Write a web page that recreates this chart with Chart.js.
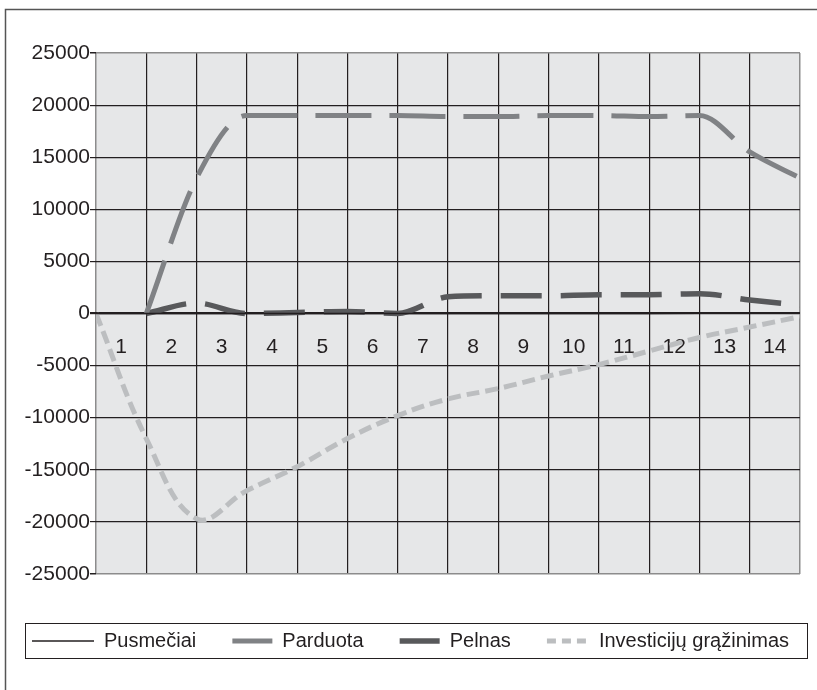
<!DOCTYPE html>
<html lang="lt">
<head>
<meta charset="UTF-8" />
<title>Pusmečiai</title>
<script src="https://cdn.jsdelivr.net/npm/chart.js"></script>
<style>
  body { margin: 0; background: #fff; }
  #wrap { position: relative; width: 817px; height: 690px; }
</style>
</head>
<body>
<div id="wrap"><canvas id="grafikas" width="817" height="690"></canvas></div>
<script>
// taškai ties tinklelio linijomis 0..14, žymės tarp jų
const periodai = [0, 1, 2, 3, 4, 5, 6, 7, 8, 9, 10, 11, 12, 13, 14];
const zymes = ["1", "2", "3", "4", "5", "6", "7", "8", "9", "10", "11", "12", "13", "14"];

const pusmeciai = [0, 1, 2, 3, 4, 5, 6, 7, 8, 9, 10, 11, 12, 13, 14];
const parduota = [null, 0, 13000, 19000, 19000, 19000, 19000, 18900, 18900, 19000, 19000, 18900, 19000, 15500, 13000];
const pelnas = [null, 0, 1000, 0, 100, 200, 0, 1600, 1700, 1700, 1800, 1800, 1900, 1300, 800];
const investicijos = [0, -12000, -19700, -17000, -14700, -12000, -9800, -8200, -7200, -6000, -4900, -3600, -2300, -1300, -300];

const yMin = -25000, yMax = 25000, yZingsnis = 5000;

const tekstas = "#231f20";
const srift = '"Liberation Sans", Arial, sans-serif';

function taskai(reiksmes) {
  return periodai.map((x, i) => ({ x: x, y: reiksmes[i] }));
}

const remelis = {
  id: "remelis",
  beforeDraw(chart) {
    const { ctx, chartArea: a } = chart;
    ctx.save();
    ctx.fillStyle = "#fff";
    ctx.fillRect(0, 0, chart.width, chart.height);
    ctx.fillStyle = "#e6e7e8";
    ctx.fillRect(a.left, a.top, a.right - a.left, a.bottom - a.top);
    ctx.strokeStyle = "#555";
    ctx.lineWidth = 1.5;
    ctx.beginPath();
    ctx.moveTo(5.5, chart.height);
    ctx.lineTo(5.5, 9.5);
    ctx.lineTo(chart.width, 9.5);
    ctx.stroke();
    ctx.restore();
  },
  afterDraw(chart) {
    // legenda su rėmeliu apačioje
    const ctx = chart.ctx;
    const boxL = 25, boxR = 807, boxT = 623, boxB = 658, midY = 641;
    ctx.save();
    ctx.strokeStyle = tekstas;
    ctx.lineWidth = 1;
    ctx.strokeRect(boxL + 0.5, boxT + 0.5, boxR - boxL, boxB - boxT);
    ctx.font = "20px " + srift;
    ctx.textBaseline = "middle";
    ctx.fillStyle = tekstas;
    const ds = chart.data.datasets;
    const symW = ds.map(d => d.legendLength);
    const textW = ds.map(d => ctx.measureText(d.label).width);
    const textGap = 10;
    const start = 32, end = 789;
    let used = 0;
    ds.forEach((d, i) => { used += symW[i] + textGap + textW[i]; });
    const itemGap = (end - start - used) / (ds.length - 1);
    let x = start;
    ds.forEach((d, i) => {
      ctx.beginPath();
      ctx.setLineDash(d.legendDash || []);
      ctx.lineWidth = d.borderWidth;
      ctx.strokeStyle = d.borderColor;
      ctx.lineCap = "butt";
      ctx.moveTo(x, midY);
      ctx.lineTo(x + symW[i], midY);
      ctx.stroke();
      ctx.setLineDash([]);
      x += symW[i] + textGap;
      ctx.fillText(d.label, x, midY);
      x += textW[i] + itemGap;
    });
    ctx.restore();
  }
};

function kraštas(ctx, n) {
  return ctx.index === 0 || ctx.index === n;
}

new Chart(document.getElementById("grafikas"), {
  type: "line",
  data: {
    datasets: [
      {
        label: "Pusmečiai",
        data: taskai(pusmeciai),
        borderColor: tekstas,
        borderWidth: 1.5,
        tension: 0,
        pointRadius: 0,
        legendLength: 62
      },
      {
        label: "Parduota",
        data: taskai(parduota),
        borderColor: "#808285",
        borderWidth: 5,
        borderDash: [56, 18],
        borderCapStyle: "butt",
        cubicInterpolationMode: "monotone",
        pointRadius: 0,
        legendLength: 40
      },
      {
        label: "Pelnas",
        data: taskai(pelnas),
        borderColor: "#58595b",
        borderWidth: 5.5,
        borderDash: [41, 19],
        borderCapStyle: "butt",
        cubicInterpolationMode: "monotone",
        pointRadius: 0,
        legendLength: 40
      },
      {
        label: "Investicijų grąžinimas",
        data: taskai(investicijos),
        borderColor: "#bcbec0",
        borderWidth: 5,
        borderDash: [13, 6],
        borderCapStyle: "butt",
        tension: 0.4,
        pointRadius: 0,
        legendLength: 42,
        legendDash: [9, 6]
      }
    ]
  },
  options: {
    responsive: false,
    animation: false,
    devicePixelRatio: 1,
    layout: { padding: { left: 0, right: 17, top: 53, bottom: 116 } },
    plugins: { legend: { display: false }, tooltip: { enabled: false } },
    scales: {
      x: {
        type: "linear",
        min: 0,
        max: 14,
        ticks: { display: false, stepSize: 1 },
        border: { display: false },
        grid: {
          drawTicks: false,
          color: c => kraštas(c, 14) ? "#8c8c8c" : tekstas,
          lineWidth: c => kraštas(c, 14) ? 1.5 : 1.2
        },
        afterFit: s => { s.height = 0; }
      },
      x2: {
        type: "category",
        axis: "x",
        labels: zymes,
        offset: true,
        position: { y: 0 },
        border: { display: false },
        grid: { display: false },
        ticks: { color: tekstas, font: { size: 21, family: srift }, padding: 13, maxRotation: 0, autoSkip: false }
      },
      y: {
        min: yMin,
        max: yMax,
        border: { display: false },
        ticks: {
          stepSize: yZingsnis,
          color: tekstas,
          padding: 0,
          font: { size: 21, family: srift },
          callback: v => String(v)
        },
        grid: {
          tickLength: 6,
          tickColor: tekstas,
          color: c => kraštas(c, 10) ? "#8c8c8c" : tekstas,
          lineWidth: c => c.tick && c.tick.value === 0 ? 2.2 : (kraštas(c, 10) ? 1.5 : 1.2)
        },
        afterFit: s => { s.width = 96; }
      }
    }
  },
  plugins: [remelis]
});
</script>
</body>
</html>
